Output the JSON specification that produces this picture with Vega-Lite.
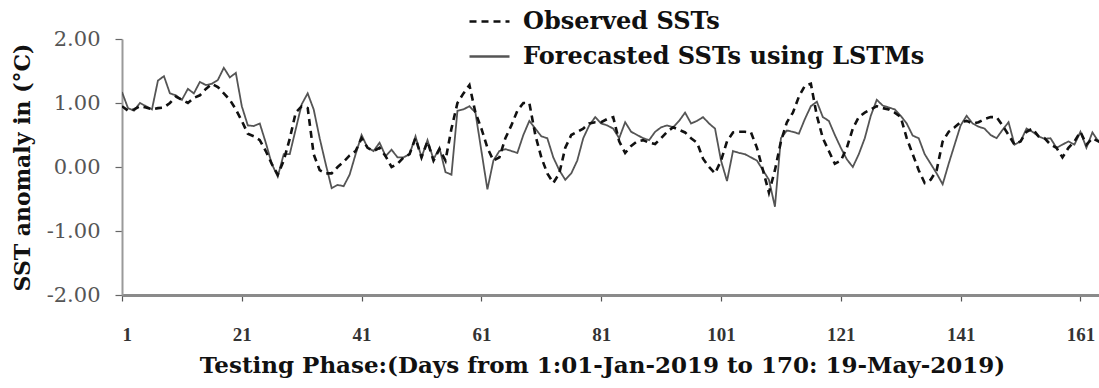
{
  "$schema": "https://vega.github.io/schema/vega-lite/v6.json",
  "autosize": "none",
  "width": 977,
  "height": 256,
  "padding": {"left": 122, "top": 39, "right": 0, "bottom": 93},
  "background": "white",
  "config": {"view": {"stroke": null}},
  "data": {"values": [
    {"d":1,"o":0.95,"f":1.17},{"d":2,"o":0.88,"f":0.92},{"d":3,"o":0.90,"f":0.88},{"d":4,"o":0.95,"f":1.00},{"d":5,"o":0.93,"f":0.95},
    {"d":6,"o":0.90,"f":0.90},{"d":7,"o":0.92,"f":1.35},{"d":8,"o":0.93,"f":1.42},{"d":9,"o":1.00,"f":1.15},{"d":10,"o":1.10,"f":1.12},
    {"d":11,"o":1.05,"f":1.05},{"d":12,"o":1.00,"f":1.22},{"d":13,"o":1.08,"f":1.15},{"d":14,"o":1.12,"f":1.33},{"d":15,"o":1.22,"f":1.28},
    {"d":16,"o":1.30,"f":1.30},{"d":17,"o":1.25,"f":1.36},{"d":18,"o":1.15,"f":1.55},{"d":19,"o":1.05,"f":1.40},{"d":20,"o":0.90,"f":1.47},
    {"d":21,"o":0.72,"f":0.95},{"d":22,"o":0.52,"f":0.65},{"d":23,"o":0.48,"f":0.64},{"d":24,"o":0.42,"f":0.68},{"d":25,"o":0.25,"f":0.38},
    {"d":26,"o":0.05,"f":0.05},{"d":27,"o":-0.12,"f":-0.15},{"d":28,"o":0.10,"f":0.20},{"d":29,"o":0.44,"f":0.20},{"d":30,"o":0.85,"f":0.59},
    {"d":31,"o":0.95,"f":0.98},{"d":32,"o":0.92,"f":1.15},{"d":33,"o":0.20,"f":0.90},{"d":34,"o":-0.05,"f":0.45},{"d":35,"o":-0.10,"f":0.05},
    {"d":36,"o":-0.10,"f":-0.33},{"d":37,"o":0.00,"f":-0.28},{"d":38,"o":0.08,"f":-0.30},{"d":39,"o":0.18,"f":-0.12},{"d":40,"o":0.25,"f":0.20},
    {"d":41,"o":0.45,"f":0.50},{"d":42,"o":0.30,"f":0.30},{"d":43,"o":0.25,"f":0.25},{"d":44,"o":0.30,"f":0.38},{"d":45,"o":0.17,"f":0.17},
    {"d":46,"o":0.00,"f":0.27},{"d":47,"o":0.05,"f":0.15},{"d":48,"o":0.15,"f":0.15},{"d":49,"o":0.20,"f":0.20},{"d":50,"o":0.45,"f":0.48},
    {"d":51,"o":0.15,"f":0.15},{"d":52,"o":0.40,"f":0.42},{"d":53,"o":0.10,"f":0.12},{"d":54,"o":0.28,"f":0.30},{"d":55,"o":0.10,"f":-0.08},
    {"d":56,"o":0.60,"f":-0.12},{"d":57,"o":1.00,"f":0.88},{"d":58,"o":1.15,"f":0.90},{"d":59,"o":1.28,"f":0.95},{"d":60,"o":0.85,"f":0.85},
    {"d":61,"o":0.60,"f":0.25},{"d":62,"o":0.30,"f":-0.35},{"d":63,"o":0.10,"f":0.10},{"d":64,"o":0.15,"f":0.25},{"d":65,"o":0.45,"f":0.28},
    {"d":66,"o":0.65,"f":0.25},{"d":67,"o":0.88,"f":0.22},{"d":68,"o":1.00,"f":0.50},{"d":69,"o":1.00,"f":0.72},{"d":70,"o":0.50,"f":0.60},
    {"d":71,"o":0.15,"f":0.48},{"d":72,"o":-0.10,"f":0.45},{"d":73,"o":-0.25,"f":0.15},{"d":74,"o":-0.10,"f":-0.05},{"d":75,"o":0.30,"f":-0.20},
    {"d":76,"o":0.50,"f":-0.10},{"d":77,"o":0.55,"f":0.10},{"d":78,"o":0.60,"f":0.45},{"d":79,"o":0.68,"f":0.65},{"d":80,"o":0.70,"f":0.78},
    {"d":81,"o":0.70,"f":0.68},{"d":82,"o":0.75,"f":0.65},{"d":83,"o":0.78,"f":0.60},{"d":84,"o":0.40,"f":0.45},{"d":85,"o":0.22,"f":0.70},
    {"d":86,"o":0.33,"f":0.55},{"d":87,"o":0.40,"f":0.50},{"d":88,"o":0.42,"f":0.45},{"d":89,"o":0.38,"f":0.42},{"d":90,"o":0.36,"f":0.55},
    {"d":91,"o":0.45,"f":0.62},{"d":92,"o":0.55,"f":0.65},{"d":93,"o":0.62,"f":0.62},{"d":94,"o":0.58,"f":0.72},{"d":95,"o":0.54,"f":0.85},
    {"d":96,"o":0.45,"f":0.68},{"d":97,"o":0.38,"f":0.72},{"d":98,"o":0.13,"f":0.78},{"d":99,"o":0.00,"f":0.68},{"d":100,"o":-0.10,"f":0.60},
    {"d":101,"o":0.10,"f":0.10},{"d":102,"o":0.40,"f":-0.22},{"d":103,"o":0.54,"f":0.25},{"d":104,"o":0.55,"f":0.22},{"d":105,"o":0.55,"f":0.20},
    {"d":106,"o":0.54,"f":0.15},{"d":107,"o":0.30,"f":0.10},{"d":108,"o":-0.05,"f":-0.05},{"d":109,"o":-0.40,"f":-0.20},{"d":110,"o":-0.05,"f":-0.62},
    {"d":111,"o":0.40,"f":0.45},{"d":112,"o":0.70,"f":0.57},{"d":113,"o":0.85,"f":0.55},{"d":114,"o":1.10,"f":0.52},{"d":115,"o":1.27,"f":0.75},
    {"d":116,"o":1.30,"f":0.95},{"d":117,"o":0.80,"f":1.02},{"d":118,"o":0.45,"f":0.78},{"d":119,"o":0.25,"f":0.72},{"d":120,"o":0.05,"f":0.50},
    {"d":121,"o":0.10,"f":0.30},{"d":122,"o":0.30,"f":0.12},{"d":123,"o":0.60,"f":0.00},{"d":124,"o":0.78,"f":0.20},{"d":125,"o":0.85,"f":0.45},
    {"d":126,"o":0.90,"f":0.80},{"d":127,"o":0.95,"f":1.05},{"d":128,"o":0.92,"f":0.96},{"d":129,"o":0.90,"f":0.93},{"d":130,"o":0.85,"f":0.90},
    {"d":131,"o":0.78,"f":0.80},{"d":132,"o":0.45,"f":0.68},{"d":133,"o":0.20,"f":0.49},{"d":134,"o":-0.05,"f":0.45},{"d":135,"o":-0.25,"f":0.20},
    {"d":136,"o":-0.20,"f":0.05},{"d":137,"o":-0.05,"f":-0.10},{"d":138,"o":0.40,"f":-0.27},{"d":139,"o":0.55,"f":0.05},{"d":140,"o":0.62,"f":0.35},
    {"d":141,"o":0.70,"f":0.65},{"d":142,"o":0.72,"f":0.80},{"d":143,"o":0.68,"f":0.68},{"d":144,"o":0.70,"f":0.63},{"d":145,"o":0.75,"f":0.60},
    {"d":146,"o":0.78,"f":0.50},{"d":147,"o":0.78,"f":0.45},{"d":148,"o":0.65,"f":0.58},{"d":149,"o":0.50,"f":0.70},{"d":150,"o":0.35,"f":0.35},
    {"d":151,"o":0.40,"f":0.40},{"d":152,"o":0.55,"f":0.60},{"d":153,"o":0.60,"f":0.55},{"d":154,"o":0.48,"f":0.48},{"d":155,"o":0.45,"f":0.44},
    {"d":156,"o":0.35,"f":0.45},{"d":157,"o":0.30,"f":0.30},{"d":158,"o":0.15,"f":0.35},{"d":159,"o":0.30,"f":0.40},{"d":160,"o":0.40,"f":0.35},
    {"d":161,"o":0.55,"f":0.55},{"d":162,"o":0.35,"f":0.30},{"d":163,"o":0.45,"f":0.54},{"d":164,"o":0.40,"f":0.40},{"d":165,"o":0.45,"f":0.30}
  ]},
  "encoding": {
    "x": {
      "field": "d", "type": "quantitative",
      "scale": {"domain": [1, 164.1], "nice": false, "zero": false},
      "axis": {
        "values": [1, 21, 41, 61, 81, 101, 121, 141, 161],
        "grid": false,
        "title": "Testing Phase:(Days from 1:01-Jan-2019 to 170: 19-May-2019)",
        "titleFont": "DejaVu Serif", "titleFontWeight": "bold", "titleFontSize": 23, "titleColor": "#111",
        "titleX": 480, "titleY": 70, "titleBaseline": "middle", "titleAnchor": null,
        "labelFont": "Liberation Serif", "labelFontWeight": "bold", "labelFontSize": 19, "labelColor": "#333",
        "labelPadding": 24,
        "domainColor": "#8a8a8a", "domainWidth": 3,
        "tickColor": "#555", "tickSize": 6, "tickWidth": 1.2
      }
    }
  },
  "layer": [
    {
      "mark": {"type": "line", "clip": true, "strokeWidth": 1.8},
      "encoding": {
        "y": {
          "field": "f", "type": "quantitative",
          "scale": {"domain": [-2, 2], "nice": false},
          "axis": {
            "values": [-2, -1, 0, 1, 2],
            "labelExpr": "replace(format(datum.value, '.2f'), '\u2212', '-')",
            "grid": false,
            "title": "SST anomaly in (°C)",
            "titleFont": "DejaVu Serif", "titleFontWeight": "bold", "titleFontSize": 22, "titleColor": "#111",
            "titleX": -100, "titleY": 128, "titleAngle": -90, "titleAlign": "center", "titleBaseline": "middle",
            "labelFont": "DejaVu Serif", "labelFontSize": 21, "labelColor": "#555",
            "labelPadding": 15,
            "domainColor": "#9a9a9a", "domainWidth": 2,
            "tickColor": "#666", "tickSize": 7, "tickWidth": 1.2
          }
        },
        "color": {
          "datum": "Forecasted SSTs using LSTMs",
          "scale": {"domain": ["Observed SSTs", "Forecasted SSTs using LSTMs"], "range": ["#111111", "#555555"]},
          "legend": {
            "title": null, "orient": "none", "legendX": 346, "legendY": -39,
            "symbolType": "stroke", "symbolSize": 1600, "symbolStrokeWidth": 2.5,
            "labelFont": "DejaVu Serif", "labelFontWeight": "bold", "labelFontSize": 24, "labelColor": "#111",
            "labelOffset": 12, "rowPadding": 1, "labelLimit": 600
          }
        },
        "strokeDash": {
          "datum": "Forecasted SSTs using LSTMs",
          "scale": {"domain": ["Observed SSTs", "Forecasted SSTs using LSTMs"], "range": [[7, 5], [1, 0]]},
          "legend": {
            "title": null, "orient": "none", "legendX": 346, "legendY": -39,
            "symbolType": "stroke", "symbolSize": 1600, "symbolStrokeWidth": 2.5,
            "labelFont": "DejaVu Serif", "labelFontWeight": "bold", "labelFontSize": 24, "labelColor": "#111",
            "labelOffset": 12, "rowPadding": 1, "labelLimit": 600
          }
        }
      }
    },
    {
      "mark": {"type": "line", "clip": true, "strokeWidth": 2.6},
      "encoding": {
        "y": {"field": "o", "type": "quantitative"},
        "color": {"datum": "Observed SSTs"},
        "strokeDash": {"datum": "Observed SSTs"}
      }
    }
  ]
}
